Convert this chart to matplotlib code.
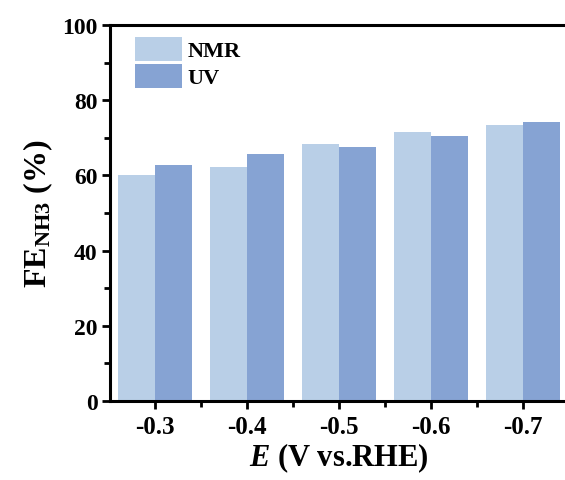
import numpy as np
import matplotlib.pyplot as plt
from matplotlib.ticker import MultipleLocator, FixedLocator

# Faradaic efficiency of NH3 at each potential, two quantification methods
potentials = ['-0.3', '-0.4', '-0.5', '-0.6', '-0.7']
fe_nmr = [60.2, 62.3, 68.4, 71.5, 73.5]
fe_uv = [62.7, 65.7, 67.6, 70.4, 74.1]

plt.rcParams['font.family'] = 'Liberation Serif'
plt.rcParams['font.weight'] = 'bold'
plt.rcParams['mathtext.fontset'] = 'custom'
plt.rcParams['mathtext.rm'] = 'Liberation Serif:bold'
plt.rcParams['mathtext.bf'] = 'Liberation Serif:bold'
plt.rcParams['mathtext.it'] = 'Liberation Serif:italic:bold'

fig = plt.figure(figsize=(5.65, 4.81), dpi=100)
ax = fig.add_axes([110 / 565, 79 / 481, 458 / 565, 376 / 481])

x = np.arange(len(potentials))
w = 0.4
ax.bar(x - w / 2, fe_nmr, w, color='#b9cfe7', label='NMR')
ax.bar(x + w / 2, fe_uv, w, color='#86a3d3', label='UV')

ax.set_xlim(-0.49, 4.49)
ax.set_ylim(0, 100)
ax.set_xticks(x)
ax.set_xticklabels(potentials)
ax.xaxis.set_minor_locator(FixedLocator(x[:-1] + 0.5))
ax.yaxis.set_major_locator(MultipleLocator(20))
ax.yaxis.set_minor_locator(MultipleLocator(10))

for s in ax.spines.values():
    s.set_linewidth(2.2)
ax.tick_params(which='major', direction='out', length=6, width=2)
ax.tick_params(which='minor', direction='out', length=4, width=2)
ax.tick_params(axis='x', labelsize=18, pad=4)
ax.tick_params(axis='y', labelsize=17, pad=3)

ax.set_ylabel('FE$_{\\rm NH3}$ (%)', fontsize=23, fontweight='bold', labelpad=5)
ax.set_xlabel('$E$ (V vs.RHE)', fontsize=22, fontweight='bold', labelpad=2)

ax.legend(loc='upper left', bbox_to_anchor=(0.055, 0.968), frameon=False,
          prop={'weight': 'bold', 'size': 16}, handlelength=2.1, handleheight=1.28,
          labelspacing=0.1, handletextpad=0.25, borderaxespad=0, borderpad=0)

fig.savefig('out.png', dpi=100)
